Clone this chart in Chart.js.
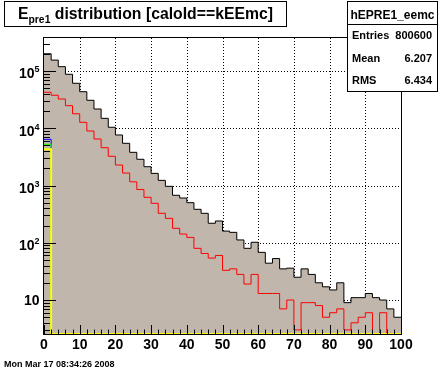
<!DOCTYPE html>
<html>
<head>
<meta charset="utf-8">
<script src="https://cdn.jsdelivr.net/npm/chart.js@4.4.1/dist/chart.umd.min.js"></script>
<style>
  html, body { margin: 0; padding: 0; background: #fff; }
  #wrap { width: 446px; height: 372px; }
</style>
</head>
<body>
<div id="wrap"><canvas id="c" width="446" height="372"></canvas></div>
<script>
// bin lower edges (50 bins of width 2) and the upper edge of the last bin
var binLow = [0, 2, 4, 6, 8, 10, 12, 14, 16, 18,
              20, 22, 24, 26, 28, 30, 32, 34, 36, 38,
              40, 42, 44, 46, 48, 50, 52, 54, 56, 58,
              60, 62, 64, 66, 68, 70, 72, 74, 76, 78,
              80, 82, 84, 86, 88, 90, 92, 94, 96, 98];
var binHigh = 100;

// hEPRE1_eemc, all entries (black, filled)
var allCounts = [200000, 155000, 119000, 87600, 61000, 43500, 30800, 21700, 14900, 10400,
                 7630, 5460, 3800, 2870, 2130, 1630, 1230, 968, 675, 605,
                 501, 384, 327, 219, 240, 160, 152, 112, 80, 102,
                 68, 44, 53, 35, 36, 25, 35, 28, 20, 17,
                 15, 20, 9, 11, 11, 13, 11, 10, 7, 5];

// red subset
var redCounts = [42500, 37700, 32400, 24800, 17900, 12700, 8950, 6490, 4570, 3240,
                 2280, 1650, 1160, 850, 622, 489, 327, 267, 179, 142,
                 124, 80, 65, 54, 60, 33, 35, 28, 19, 28,
                 13, 13, 13, 7, 10, 3, 9, 9, 8, 5,
                 6, 7, 3, 4, 5, 6, 0, 6, 0, 0];

// the three small histograms that only fill the first bin
var blueCounts   = [6400, 0,0,0,0,0,0,0,0,0, 0,0,0,0,0,0,0,0,0,0, 0,0,0,0,0,0,0,0,0,0, 0,0,0,0,0,0,0,0,0,0, 0,0,0,0,0,0,0,0,0,0];
var greenCounts  = [5240, 0,0,0,0,0,0,0,0,0, 0,0,0,0,0,0,0,0,0,0, 0,0,0,0,0,0,0,0,0,0, 0,0,0,0,0,0,0,0,0,0, 0,0,0,0,0,0,0,0,0,0];
var yellowCounts = [4290, 0,0,0,0,0,0,0,0,0, 0,0,0,0,0,0,0,0,0,0, 0,0,0,0,0,0,0,0,0,0, 0,0,0,0,0,0,0,0,0,0, 0,0,0,0,0,0,0,0,0,0];

var xTickLabels = [0, 10, 20, 30, 40, 50, 60, 70, 80, 90, 100];
var yTickLabels = [10, 100, 1000, 10000, 100000];

var Y_MIN = 2.55;
var Y_MAX = 377000;

var statsRows = [['Entries', '800600'], ['Mean', '6.207'], ['RMS', '6.434']];

var FONT = "'Liberation Sans', Arial, Helvetica, sans-serif";

// step points: value of each bin held from its low edge to the next one
// empty bins are drawn on the bottom of the frame, as ROOT does on log scale
function steps(counts) {
    var pts = [];
    for (var i = 0; i < counts.length; i++) {
        pts.push({x: binLow[i], y: counts[i] > 0 ? counts[i] : Y_MIN});
    }
    pts.push({x: binHigh, y: pts[pts.length - 1].y});
    return pts;
}

function hist(counts, color, width, fill) {
    return {
        data: steps(counts),
        borderColor: color,
        borderWidth: width,
        backgroundColor: fill || 'transparent',
        fill: fill ? 'start' : false,
        stepped: 'before',
        pointRadius: 0,
        tension: 0
    };
}

var rootAxes = {
    id: 'rootAxes',
    beforeDatasetsDraw: function(chart) {
        var ctx = chart.ctx, a = chart.chartArea;
        var xs = chart.scales.x, ys = chart.scales.y;
        ctx.save();
        ctx.strokeStyle = '#000';
        ctx.lineWidth = 1;
        ctx.setLineDash([1, 2]);
        xTickLabels.forEach(function(v) {
            if (v === 0 || v === 100) return;
            var px = Math.round(xs.getPixelForValue(v)) + 0.5;
            ctx.beginPath(); ctx.moveTo(px, a.top); ctx.lineTo(px, a.bottom); ctx.stroke();
        });
        yTickLabels.forEach(function(v) {
            var py = Math.round(ys.getPixelForValue(v)) + 0.5;
            ctx.beginPath(); ctx.moveTo(a.left, py); ctx.lineTo(a.right, py); ctx.stroke();
        });
        ctx.setLineDash([]);
        ctx.strokeRect(a.left - 0.5, a.top - 0.5, a.right - a.left + 1, a.bottom - a.top + 1);
        ctx.restore();
    },
    afterDatasetsDraw: function(chart) {
        var ctx = chart.ctx, a = chart.chartArea;
        var xs = chart.scales.x, ys = chart.scales.y;
        ctx.save();
        ctx.strokeStyle = '#000';
        ctx.lineWidth = 1;
        // x ticks every 2, long every 10, pointing into the frame
        for (var v = 0; v <= 100; v += 2) {
            var px = Math.round(xs.getPixelForValue(v)) + 0.5;
            var len = (v % 10 === 0) ? 9 : 4.5;
            ctx.beginPath(); ctx.moveTo(px, a.bottom); ctx.lineTo(px, a.bottom - len); ctx.stroke();
        }
        // y ticks, decades long and 2..9 short
        for (var d = 1; d <= 100000; d *= 10) {
            for (var m = 1; m <= 9; m++) {
                var val = d * m;
                if (val < Y_MIN || val > Y_MAX) continue;
                var py = Math.round(ys.getPixelForValue(val)) + 0.5;
                ctx.beginPath(); ctx.moveTo(a.left, py); ctx.lineTo(a.left + (m === 1 ? 12 : 6), py); ctx.stroke();
            }
        }
        // labels
        ctx.fillStyle = '#000';
        ctx.font = 'bold 14px ' + FONT;
        ctx.textAlign = 'center';
        ctx.textBaseline = 'alphabetic';
        xTickLabels.forEach(function(v) {
            ctx.fillText(String(v), xs.getPixelForValue(v), a.bottom + 14.5);
        });
        yTickLabels.forEach(function(v) {
            var py = ys.getPixelForValue(v);
            var exp = Math.round(Math.log10(v));
            ctx.textAlign = 'right';
            if (exp === 1) {
                ctx.font = 'bold 14px ' + FONT;
                ctx.fillText('10', 39.5, py + 5);
            } else {
                ctx.font = 'bold 9px ' + FONT;
                ctx.fillText(String(exp), 39.5, py + 1.5);
                var ew = ctx.measureText(String(exp)).width;
                ctx.font = 'bold 14px ' + FONT;
                ctx.fillText('10', 39.5 - ew, py + 7.5);
            }
        });
        ctx.restore();
    },
    afterDraw: function(chart) {
        var ctx = chart.ctx;
        ctx.save();
        ctx.lineWidth = 1;
        ctx.strokeStyle = '#000';

        // title pave
        ctx.fillStyle = '#fff';
        ctx.fillRect(4, 1, 283, 25);
        ctx.strokeRect(4.5, 1.5, 282, 25);
        ctx.fillStyle = '#000';
        var big = 'bold 16px ' + FONT, sub = 'bold 10.5px ' + FONT;
        ctx.font = big; var wE = ctx.measureText('E').width;
        ctx.font = sub; var wS = ctx.measureText('pre1').width;
        ctx.font = big; var rest = ' distribution [caloId==kEEmc]'; var wR = ctx.measureText(rest).width;
        var total = wE + wS + wR;
        var sx = Math.min(1, 255 / total);
        ctx.save();
        ctx.translate(145.5 - total * sx / 2, 0);
        ctx.scale(sx, 1);
        ctx.textAlign = 'left';
        ctx.fillText('E', 0, 18.5);
        ctx.font = sub; ctx.fillText('pre1', wE, 22.5);
        ctx.font = big; ctx.fillText(rest, wE + wS, 18.5);
        ctx.restore();

        // stats box
        ctx.fillStyle = '#fff';
        ctx.fillRect(347, 1, 90, 90);
        ctx.strokeRect(347.5, 1.5, 90, 90);
        ctx.beginPath(); ctx.moveTo(347.5, 24.5); ctx.lineTo(437.5, 24.5); ctx.stroke();
        ctx.fillStyle = '#000';
        ctx.font = 'bold 12px ' + FONT;
        ctx.textAlign = 'center';
        ctx.fillText('hEPRE1_eemc', 392.5, 18.5);
        ctx.font = 'bold 11px ' + FONT;
        var rowY = [38.5, 61.5, 84];
        statsRows.forEach(function(r, i) {
            ctx.textAlign = 'left';
            ctx.fillText(r[0], 352, rowY[i]);
            ctx.textAlign = 'right';
            ctx.fillText(r[1], 432, rowY[i]);
        });

        // date stamp
        ctx.font = 'bold 9px ' + FONT;
        ctx.textAlign = 'left';
        ctx.fillText('Mon Mar 17 08:34:26 2008', 4, 367);
        ctx.restore();
    }
};

new Chart(document.getElementById('c'), {
    type: 'line',
    data: {
        datasets: [
            hist(yellowCounts, '#ffff00', 2),
            hist(greenCounts, '#00ff00', 1),
            hist(blueCounts, '#0000ff', 1),
            hist(redCounts, '#ff0000', 1),
            hist(allCounts, '#000000', 1, 'rgb(192,182,172)')
        ]
    },
    options: {
        responsive: false,
        animation: false,
        layout: { padding: { left: 44, right: 45, top: 38, bottom: 38 } },
        plugins: { legend: { display: false }, tooltip: { enabled: false } },
        scales: {
            x: { type: 'linear', min: 0, max: 100, display: false },
            y: { type: 'logarithmic', min: Y_MIN, max: Y_MAX, display: false }
        }
    },
    plugins: [rootAxes]
});
</script>
</body>
</html>
